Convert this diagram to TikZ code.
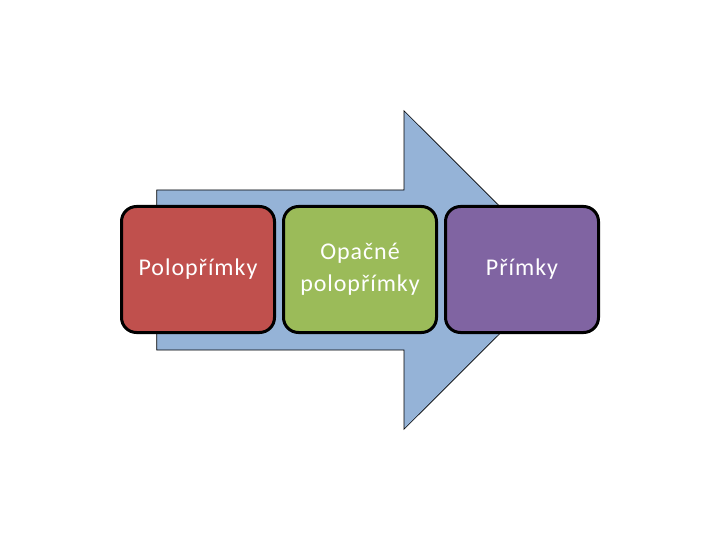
\documentclass[tikz,border=0pt]{standalone}
\usepackage{fontspec}
\usetikzlibrary{positioning}
\newfontfamily\boxfont{Carlito}[LetterSpace=4]
\definecolor{arrowBlue}{HTML}{95B3D7}
\definecolor{stepRed}{HTML}{C0504D}
\definecolor{stepGreen}{HTML}{9BBB59}
\definecolor{stepPurple}{HTML}{8064A2}

\begin{document}
\begin{tikzpicture}[
  x=1pt, y=-1pt,
  stage/.style={draw=black, line width=3pt, rounded corners=15pt, minimum width=153pt, minimum height=126pt,
    align=center, text=white, inner sep=2pt, font=\boxfont\fontsize{24}{32}\selectfont},
  bigarrow/.style={fill=arrowBlue, draw=black, line width=0.6pt}
]
\useasboundingbox (0,0) rectangle (720,540);

% ------------------------------------------------------------------
% Background arrow
% ------------------------------------------------------------------
\draw[bigarrow] (156.7,190) -- (404,190) -- (404,110.7) -- (563.5,270)
  -- (404,429.3) -- (404,350) -- (156.7,350) -- cycle;

% ------------------------------------------------------------------
% Stages
% ------------------------------------------------------------------
\node[stage, fill=stepRed] (half) at (198,269.5) {Polopřímky};
\node[stage, fill=stepGreen, right=6pt of half] (opp) {Opačné\\polopřímky};
\node[stage, fill=stepPurple, right=6pt of opp] (line) {Přímky};

\end{tikzpicture}
\end{document}
